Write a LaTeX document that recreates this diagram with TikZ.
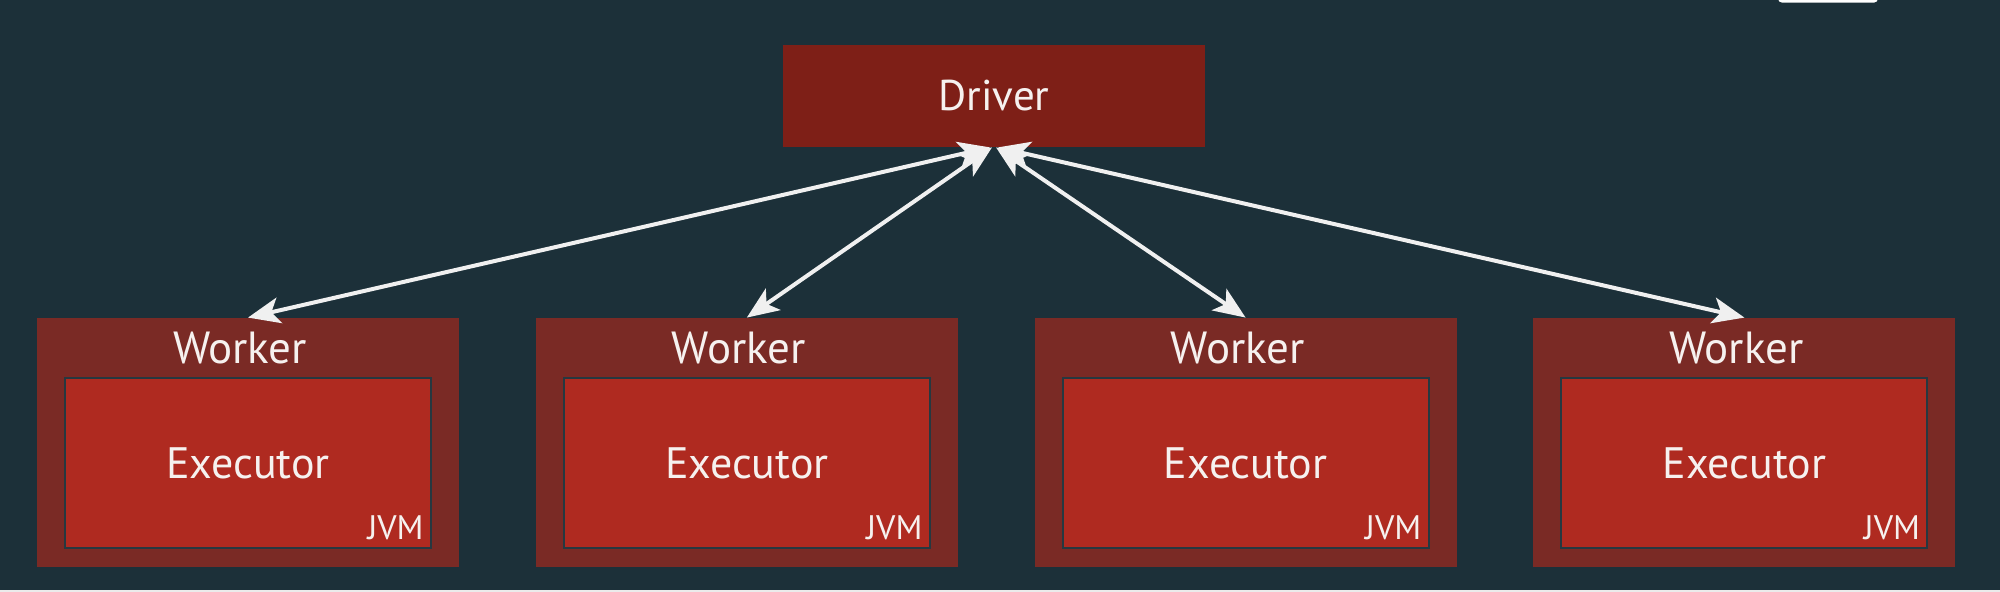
\documentclass[tikz,border=0pt]{standalone}
\usepackage{xcolor}
\usepackage{tikz}
\usepackage{fontspec}
\setmainfont{PT Sans}
\usetikzlibrary{positioning, arrows.meta}

\definecolor{bgcol}{HTML}{1C3039}
\definecolor{drivercol}{HTML}{7E1F17}
\definecolor{workercol}{HTML}{7A2A25}
\definecolor{execcol}{HTML}{AF2A20}
\definecolor{execline}{HTML}{263840}
\definecolor{linkcol}{HTML}{F0F0F0}
\definecolor{textcol}{HTML}{F6F1EF}

\begin{document}
\begin{tikzpicture}[node distance=38pt,
    driverbox/.style={rectangle, fill=drivercol, minimum width=211pt, minimum height=51pt, text=textcol, font=\fontsize{21.5}{24}\selectfont},
    workerbox/.style={rectangle, fill=workercol, minimum width=211pt, minimum height=124.5pt},
    execbox/.style={rectangle, fill=execcol, draw=execline, line width=1pt, minimum width=183pt, minimum height=85pt, text=textcol, font=\fontsize{22}{24}\selectfont},
    lbl/.style={text=textcol, inner sep=0pt, font=\fontsize{22.5}{24}\selectfont},
    jvmlbl/.style={text=textcol, inner sep=0pt, anchor=south east, font=\fontsize{17}{18}\selectfont},
    link/.style={draw=linkcol, line width=2pt, {Stealth[length=16pt, width=13pt, inset=4pt]}-{Stealth[length=16pt, width=13pt, inset=4pt]}}]
    % Background
    \useasboundingbox (0,0) rectangle (1000pt,-296pt);
    \fill[bgcol] (0,0) rectangle (1000pt,-296pt);
    \fill[black!8] (0,-294.8pt) rectangle (1000pt,-296pt);
    \fill[white, rounded corners=2pt] (889pt,4pt) rectangle (939pt,-1.3pt);

    % Define blocks
    \node (drv) [driverbox] at (497pt,-48pt) {Driver};

    \node (w1) [workerbox] at (124pt,-221.25pt) {};
    \node (w2) [workerbox, right=of w1] {};
    \node (w3) [workerbox, right=of w2] {};
    \node (w4) [workerbox, right=of w3] {};

    \node (w1lbl) [lbl] at ([xshift=-4pt, yshift=-15pt]w1.north) {Worker};
    \node (w2lbl) [lbl] at ([xshift=-4pt, yshift=-15pt]w2.north) {Worker};
    \node (w3lbl) [lbl] at ([xshift=-4pt, yshift=-15pt]w3.north) {Worker};
    \node (w4lbl) [lbl] at ([xshift=-4pt, yshift=-15pt]w4.north) {Worker};

    \node (e1) [execbox, above=9pt of w1.south] {Executor};
    \node (e2) [execbox, above=9pt of w2.south] {Executor};
    \node (e3) [execbox, above=9pt of w3.south] {Executor};
    \node (e4) [execbox, above=9pt of w4.south] {Executor};

    \node (j1) [jvmlbl] at ([xshift=-4pt, yshift=4.5pt]e1.south east) {JVM};
    \node (j2) [jvmlbl] at ([xshift=-4pt, yshift=4.5pt]e2.south east) {JVM};
    \node (j3) [jvmlbl] at ([xshift=-4pt, yshift=4.5pt]e3.south east) {JVM};
    \node (j4) [jvmlbl] at ([xshift=-4pt, yshift=4.5pt]e4.south east) {JVM};

    % Draw arrows
    \draw[link] ([xshift=-2pt]drv.south) -- (w1.north);
    \draw[link] ([xshift=-1pt]drv.south) -- (w2.north);
    \draw[link] ([xshift=1pt]drv.south) -- (w3.north);
    \draw[link] ([xshift=2pt]drv.south) -- (w4.north);

\end{tikzpicture}
\end{document}
